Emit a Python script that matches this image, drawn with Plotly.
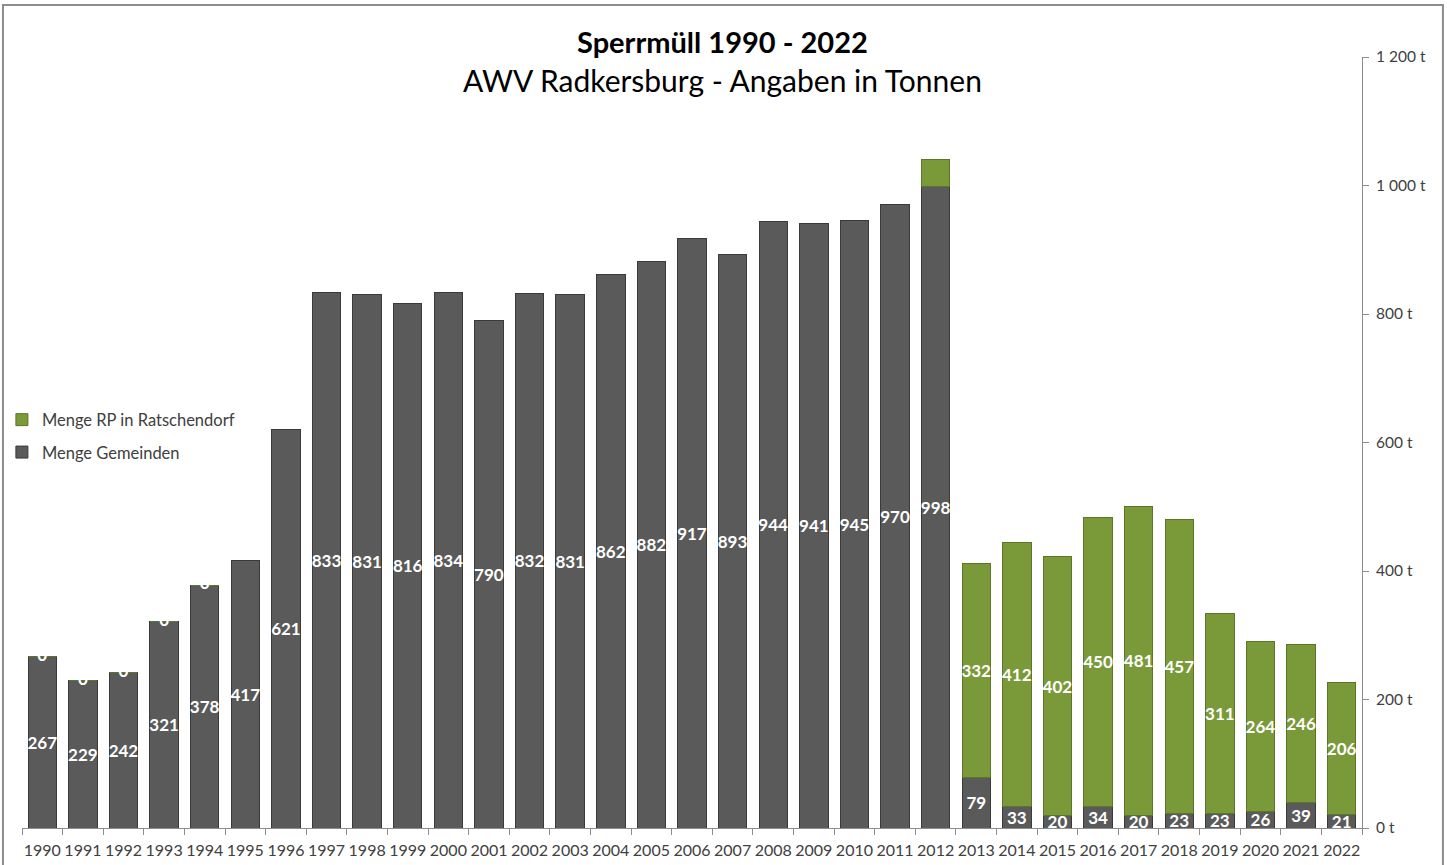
import plotly.graph_objects as go

years = [str(y) for y in range(1990, 2023)]

gemeinden = [267, 229, 242, 321, 378, 417, 621, 833, 831, 816, 834, 790, 832, 831,
             862, 882, 917, 893, 944, 941, 945, 970, 998, 79, 33, 20, 34, 20, 23,
             23, 26, 39, 21]

ratschendorf = [0, 0, 0, 0, 0, None, None, None, None, None, None, None, None, None,
                None, None, None, None, None, None, None, None, 42, 332, 412, 402,
                450, 481, 457, 311, 264, 246, 206]

y_ticks = [0, 200, 400, 600, 800, 1000, 1200]
y_tick_text = ["0 t", "200 t", "400 t", "600 t", "800 t", "1 000 t", "1 200 t"]

FONT = "Lato"
GRAY = "#5a5a5a"
GREEN = "#7a9a3a"
TXT = "#404040"

rp_text = [str(v) if (v is not None and v >= 100) else "" for v in ratschendorf]
zero_x = [y for y, v in zip(years, ratschendorf) if v == 0]
zero_y = [g for g, v in zip(gemeinden, ratschendorf) if v == 0]

label_font = dict(family=FONT, size=17, color="white", weight="bold")

fig = go.Figure()
fig.add_trace(go.Bar(
    x=years, y=gemeinden, name="Menge Gemeinden", legendrank=2, legendgroup="g",
    marker=dict(color=GRAY, line=dict(color="#3a3a3a", width=1)),
    text=[str(v) for v in gemeinden], textposition="inside",
    insidetextanchor="middle", textangle=0, constraintext="none",
    textfont=label_font,
))
fig.add_trace(go.Bar(
    x=years, y=ratschendorf, name="Menge RP in Ratschendorf", legendrank=1, legendgroup="r",
    marker=dict(color=GREEN, line=dict(color="#5b7628", width=1)),
    text=rp_text, textposition="inside",
    insidetextanchor="middle", textangle=0, constraintext="none",
    textfont=label_font,
))
# "0" labels sitting on top of the early bars
fig.add_trace(go.Scatter(
    x=zero_x, y=zero_y, mode="text", text=["0"] * len(zero_x),
    textposition="middle center", showlegend=False, hoverinfo="skip",
    textfont=label_font,
))

fig.update_layout(
    width=1447, height=865,
    barmode="stack", bargap=0.3,
    paper_bgcolor="white", plot_bgcolor="white",
    margin=dict(l=22, r=85, t=57, b=37, autoexpand=False),
    font=dict(family=FONT, color=TXT),
    legend=dict(x=-0.015, y=0.552, xanchor="left", yanchor="top",
                traceorder="grouped", tracegroupgap=8,
                font=dict(family=FONT, size=16.5, color=TXT),
                bgcolor="rgba(0,0,0,0)", itemwidth=30),
    xaxis=dict(type="category", range=[-0.5, len(years) - 0.5],
               showgrid=False, showline=True, linecolor="#8c8c8c",
               ticks="outside", ticklen=6, tickcolor="#8c8c8c", tickson="boundaries",
               tickangle=0, automargin=False, ticklabelstandoff=8,
               tickfont=dict(family=FONT, size=16, color=TXT)),
    yaxis=dict(side="right", range=[0, 1200], tickvals=y_ticks, ticktext=y_tick_text,
               showgrid=False, showline=True, linecolor="#8c8c8c", zeroline=False,
               ticks="outside", ticklen=6, tickcolor="#8c8c8c", automargin=False,
               ticklabelstandoff=4,
               tickfont=dict(family=FONT, size=15.5, color=TXT)),
    annotations=[
        dict(text="<b>Sperrmüll 1990 - 2022</b>", xref="paper", yref="paper",
             x=0.523, y=1.0195, xanchor="center", yanchor="middle", showarrow=False,
             font=dict(family=FONT, size=29, color="black")),
        dict(text="AWV Radkersburg - Angaben in Tonnen", xref="paper", yref="paper",
             x=0.523, y=0.970, xanchor="center", yanchor="middle", showarrow=False,
             font=dict(family=FONT, size=30, color="black")),
    ],
    shapes=[dict(type="rect", xref="paper", yref="paper",
                 x0=-0.0142, x1=1.0604, y0=-0.06, y1=1.0674,
                 line=dict(color="#8c8c8c", width=2))],
)

fig.write_html("out.html", config={"displayModeBar": False},
               post_script="document.body.style.margin='0';")
